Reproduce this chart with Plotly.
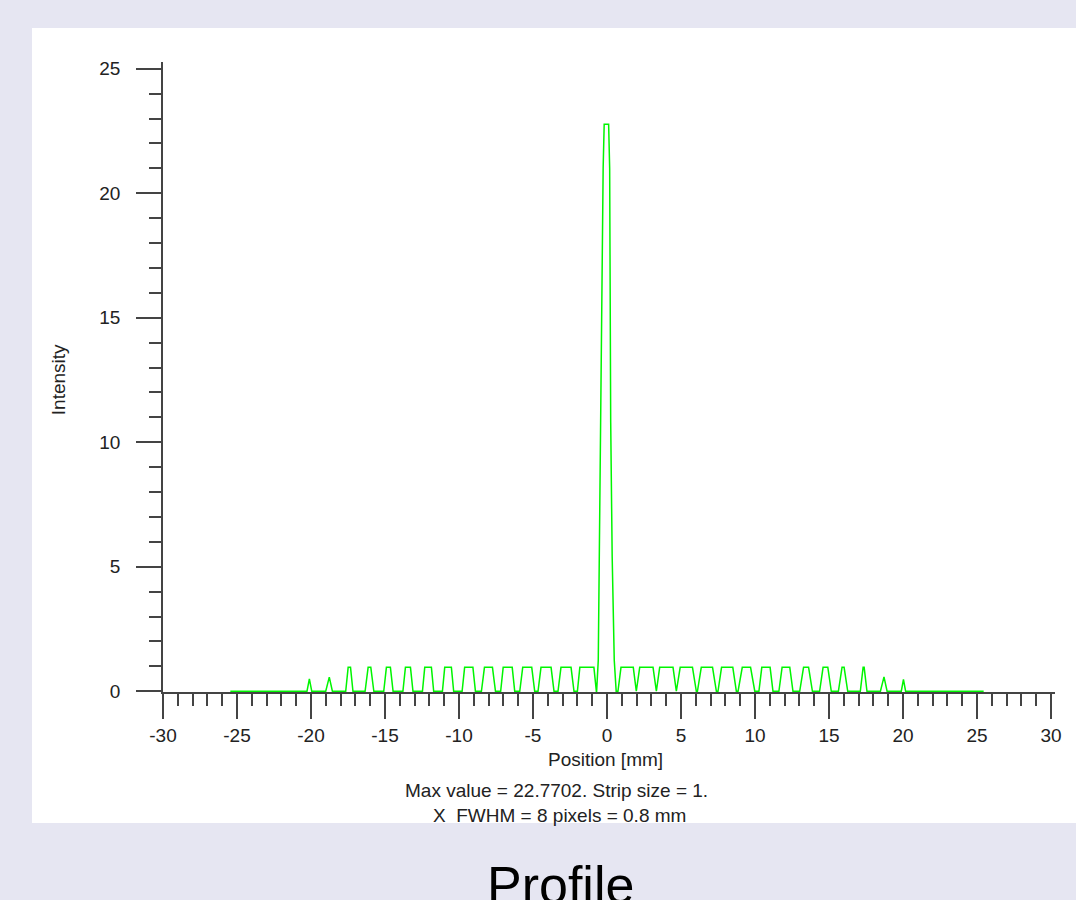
import plotly.graph_objects as go

# ---------------- data ----------------
# side peaks left of centre: centre position [mm], height, base width, top width
left_centers = [-20.11, -18.78, -17.41, -16.05, -14.77, -13.45, -12.09, -10.74,
                -9.34, -8.01, -6.71, -5.39, -4.12, -2.77, -1.36]
left_heights = [0.50, 0.57, 0.96, 0.96, 0.96, 0.96, 0.96, 0.96,
                0.96, 0.96, 0.96, 0.96, 0.96, 0.96, 0.96]
left_base = [0.32, 0.45, 0.49, 0.59, 0.63, 0.68, 0.76, 0.76,
             0.90, 0.95, 0.95, 1.01, 1.08, 1.08, 1.28]
left_top = [0.00, 0.03, 0.16, 0.18, 0.27, 0.34, 0.45, 0.45,
            0.56, 0.54, 0.61, 0.61, 0.68, 0.68, 0.95]

# central peak outline
center_x = [-0.70, -0.59, -0.53, -0.43, -0.36, -0.26, -0.19, 0.11,
            0.18, 0.22, 0.25, 0.35, 0.49, 0.62]
center_y = [0.0, 1.25, 5.4, 10.8, 16.4, 21.0, 22.77, 22.77,
            21.0, 16.4, 10.8, 5.4, 1.25, 0.0]

# side peaks right of centre
right_centers = [1.36, 2.66, 4.01, 5.36, 6.75, 8.12, 9.42, 10.74,
                 12.09, 13.45, 14.76, 15.95, 17.34, 18.70, 20.03]
right_heights = [0.96, 0.96, 0.96, 0.96, 0.96, 0.96, 0.96, 0.96,
                 0.96, 0.96, 0.96, 0.96, 0.96, 0.58, 0.48]
right_base = [1.24, 1.35, 1.35, 1.35, 1.28, 1.24, 1.13, 0.95,
              0.95, 0.86, 0.79, 0.63, 0.45, 0.45, 0.29]
right_top = [0.83, 0.90, 0.90, 0.83, 0.76, 0.76, 0.56, 0.56,
             0.52, 0.34, 0.32, 0.14, 0.07, 0.03, 0.00]

profile_start = -25.45
profile_end = 25.45

x_tick_vals = [-30, -25, -20, -15, -10, -5, 0, 5, 10, 15, 20, 25, 30]
x_tick_text = ["-30", "-25", "-20", "-15", "-10", "-5", "0", "5", "10", "15", "20", "25", "30"]
x_minor_vals = list(range(-30, 31))
y_tick_vals = [0, 5, 10, 15, 20, 25]
y_tick_text = ["0", "5", "10", "15", "20", "25"]
y_minor_vals = list(range(0, 26))

x_title = "Position [mm]"
y_title = "Intensity"
caption_1 = "Max value = 22.7702. Strip size = 1."
caption_2 = "X  FWHM = 8 pixels = 0.8 mm"
chart_title = "Profile"

# ---------------- build the polyline ----------------
xs, ys = [profile_start], [0.0]


def add_peaks(cs, hs, bws, tws):
    for c, h, bw, tw in zip(cs, hs, bws, tws):
        xs.extend([c - bw / 2, c - tw / 2, c + tw / 2, c + bw / 2])
        ys.extend([0.0, h, h, 0.0])


add_peaks(left_centers, left_heights, left_base, left_top)
xs.extend(center_x)
ys.extend(center_y)
add_peaks(right_centers, right_heights, right_base, right_top)
xs.append(profile_end)
ys.append(0.0)

FONT = "Liberation Sans, Arial, Helvetica, sans-serif"
AX = "#444444"
TXT = "#222222"
FS = 19

fig = go.Figure()
fig.add_trace(go.Scatter(x=xs, y=ys, mode="lines",
                         line=dict(color="rgb(0,245,0)", width=1.5),
                         hoverinfo="skip", showlegend=False))

fig.update_layout(
    width=1076, height=900,
    margin=dict(l=163, r=21, t=62, b=208),
    paper_bgcolor="rgb(230,230,242)",
    plot_bgcolor="white",
    showlegend=False,
    xaxis=dict(range=[-30, 30.27], showgrid=False, zeroline=False,
               showline=True, linecolor=AX, linewidth=1.5,
               ticks="outside", ticklen=25, tickwidth=1.5, tickcolor=AX,
               tickmode="array", tickvals=x_tick_vals, ticktext=x_tick_text,
               tickfont=dict(family=FONT, size=FS, color=TXT),
               minor=dict(tickmode="array", tickvals=x_minor_vals, ticks="outside",
                          ticklen=12, tickwidth=1.5, tickcolor=AX),
               layer="below traces", fixedrange=True),
    yaxis=dict(range=[-0.03, 25.27], showgrid=False, zeroline=False,
               showline=True, linecolor=AX, linewidth=1.5,
               ticks="outside", ticklen=25, tickwidth=1.5, tickcolor=AX,
               tickmode="array", tickvals=y_tick_vals, ticktext=y_tick_text,
               tickfont=dict(family=FONT, size=FS, color=TXT),
               ticklabelstandoff=12,
               minor=dict(tickmode="array", tickvals=y_minor_vals, ticks="outside",
                          ticklen=12, tickwidth=1.5, tickcolor=AX),
               layer="below traces", fixedrange=True),
)

# white panel behind the chart
fig.add_shape(type="rect", xref="paper", yref="paper",
              x0=-0.1469, x1=1.03, y0=-0.208, y1=1.054,
              fillcolor="white", line=dict(width=0), layer="below")

anns = [
    dict(text=y_title, x=-0.1177, y=0.495, textangle=-90),
    dict(text=x_title, x=0.4966, y=-0.107),
    dict(text=caption_1, x=0.4406, y=-0.1565),
    dict(text=caption_2, x=0.444, y=-0.1965),
]
for a in anns:
    fig.add_annotation(text=a["text"], xref="paper", yref="paper", x=a["x"], y=a["y"],
                       xanchor="center", yanchor="middle", showarrow=False,
                       textangle=a.get("textangle", 0),
                       font=dict(family=FONT, size=FS, color=TXT))

fig.add_annotation(text=chart_title, xref="paper", yref="paper", x=0.446, y=-0.257,
                   xanchor="center", yanchor="top", showarrow=False,
                   font=dict(family=FONT, size=52, color="black"))

fig.write_html("out.html")
